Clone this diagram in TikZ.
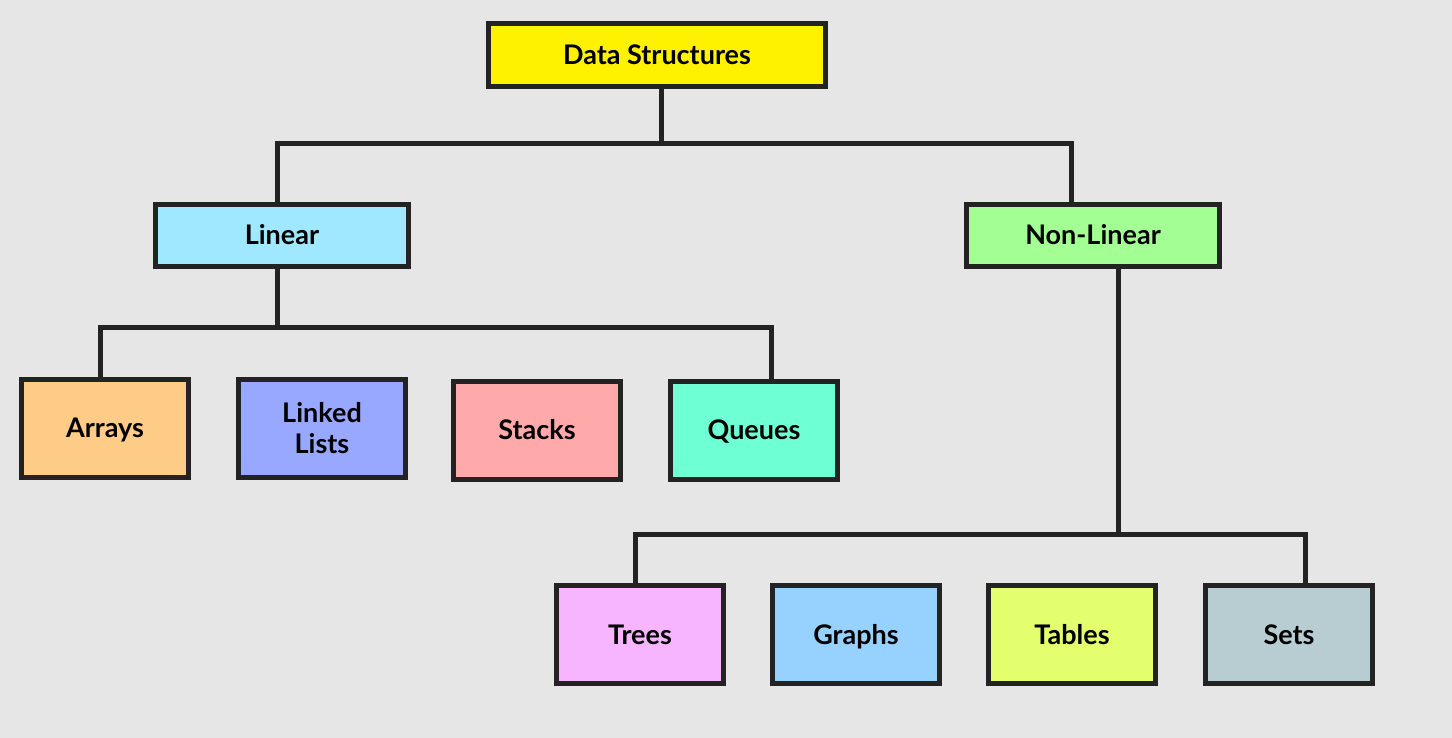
\documentclass[tikz,border=0pt]{standalone}
\usepackage{fontspec}
\setmainfont{Lato}
\usetikzlibrary{calc}
\definecolor{bg}{HTML}{E6E6E6}
\definecolor{ink}{HTML}{232323}
\definecolor{cds}{HTML}{FFF200}
\definecolor{clin}{HTML}{A0E8FF}
\definecolor{cnon}{HTML}{A3FF94}
\definecolor{carr}{HTML}{FFCC88}
\definecolor{clink}{HTML}{99A8FF}
\definecolor{cstack}{HTML}{FFAAAA}
\definecolor{cqueue}{HTML}{6EFFD5}
\definecolor{ctree}{HTML}{F7B5FF}
\definecolor{cgraph}{HTML}{97D2FF}
\definecolor{ctable}{HTML}{E3FF6E}
\definecolor{cset}{HTML}{B8CDD2}
\tikzset{
  box/.style={draw=ink, line width=5pt, rectangle, inner sep=0pt, align=center,
    font=\fontsize{27}{31}\selectfont\bfseries, text=black},
  topbox/.style={box, minimum width=337pt, minimum height=63pt},
  midbox/.style={box, minimum width=253pt, minimum height=62pt},
  leafbox/.style={box, minimum width=167pt, minimum height=98pt},
  onel/.style={text height=19pt, text depth=0pt},
  wire/.style={draw=ink, line width=5pt, line join=miter}
}
\begin{document}
\begin{tikzpicture}[x=1pt,y=-1pt]
\fill[bg] (0,0) rectangle (1452,738);
\useasboundingbox (0,0) rectangle (1452,738);
% nodes
\node[topbox, onel, fill=cds] (ds) at (657,55) {Data Structures};
\node[midbox, onel, fill=clin] (lin) at (282,235.5) {Linear};
\node[midbox, onel, fill=cnon] (non) at (1093,235.5) {Non-Linear};
\node[leafbox, onel, fill=carr] (arr) at (105,428) {Arrays};
\node[leafbox, fill=clink] (ll) at (322,428.5) {Linked\\Lists};
\node[leafbox, onel, fill=cstack] (stk) at (537,430) {Stacks};
\node[leafbox, onel, fill=cqueue] (que) at (754,430) {Queues};
\node[leafbox, onel, fill=ctree] (tre) at (640,634.5) {Trees};
\node[leafbox, onel, fill=cgraph] (gra) at (856,634.5) {Graphs};
\node[leafbox, onel, fill=ctable] (tab) at (1072,634.5) {Tables};
\node[leafbox, onel, fill=cset] (set) at (1289,634.5) {Sets};
% bus points
\coordinate (b1) at (661,144);
\coordinate (x1l) at (277,0);
\coordinate (x1r) at (1071,0);
\coordinate (b2) at (277,327);
\coordinate (xa) at (100,0);
\coordinate (xl) at (321,0);
\coordinate (xs) at (537,0);
\coordinate (xq) at (771,0);
\coordinate (b3) at (1118,534);
\coordinate (xt) at (635,0);
\coordinate (xg) at (854,0);
\coordinate (xb) at (1067,0);
\coordinate (xe) at (1305,0);
% connectors
\draw[wire] (ds.south -| b1) -- (b1);
\draw[wire] (lin.north -| x1l) |- (b1) -| (non.north -| x1r);
\draw[wire] (lin.south -| b2) -- (b2);
\draw[wire] (arr.north -| xa) |- (b2) -| (que.north -| xq);
\draw[wire] (ll.north -| xl) -- (ll.north -| xl |- b2);
\draw[wire] (stk.north -| xs) -- (stk.north -| xs |- b2);
\draw[wire] (non.south -| b3) -- (b3);
\draw[wire] (tre.north -| xt) |- (b3) -| (set.north -| xe);
\draw[wire] (gra.north -| xg) -- (gra.north -| xg |- b3);
\draw[wire] (tab.north -| xb) -- (tab.north -| xb |- b3);
\end{tikzpicture}
\end{document}
